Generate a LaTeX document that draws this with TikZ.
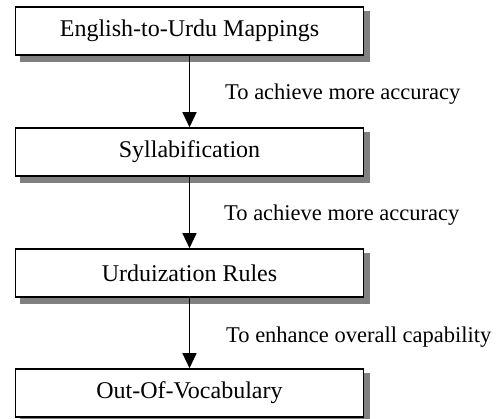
\documentclass[tikz,border=0pt]{standalone}
\usepackage{fontspec}
\setmainfont{Liberation Serif}
\usetikzlibrary{backgrounds,arrows.meta}
\tikzset{
  stepbox/.style={draw=black, line width=1.6pt, fill=white, minimum width=348pt, minimum height=48pt, inner sep=0pt,
    font=\fontsize{24}{28}\selectfont},
  shade/.style={fill=black!50, draw=none},
  arr/.style={line width=1.4pt, -{Triangle[length=15pt,width=14pt]}},
  lbl/.style={anchor=west, inner sep=0pt, font=\fontsize{22.5}{26}\selectfont}
}
\begin{document}
\begin{tikzpicture}[x=1pt,y=-1pt]
\useasboundingbox (0,0) rectangle (502,419);
\node[stepbox] (b1) at (189.5,31) {English-to-Urdu Mappings};
\node[stepbox] (b2) at (189.5,152) {Syllabification};
\node[stepbox] (b3) at (189.5,273) {Urduization Rules};
\node[stepbox] (b4) at (189.5,393) {Out-Of-Vocabulary};
\begin{scope}[on background layer]
\foreach \b in {b1,b2,b3,b4}
  \fill[shade] ([shift={(5,5)}]\b.north west) rectangle ([shift={(5.8,5.8)}]\b.south east);
\end{scope}
\draw[arr] (b1) -- node[lbl, pos=0.53, xshift=35pt] {To achieve more accuracy} (b2);
\draw[arr] (b2) -- node[lbl, pos=0.535, xshift=34pt] {To achieve more accuracy} (b3);
\draw[arr] (b3) -- node[lbl, pos=0.555, xshift=36pt] {To enhance overall capability} (b4);
\end{tikzpicture}
\end{document}
